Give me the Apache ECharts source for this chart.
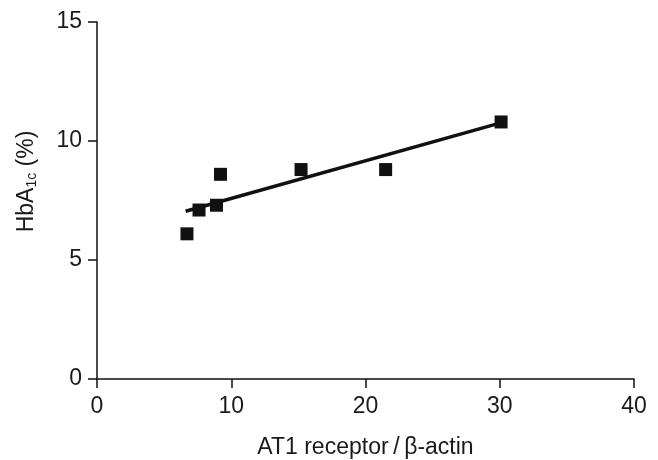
<!DOCTYPE html>
<html>
<head>
<meta charset="utf-8">
<script src="https://cdn.jsdelivr.net/npm/echarts@6/dist/echarts.min.js"></script>
<style>
  html, body { margin: 0; padding: 0; background: #fff; }
  #main { width: 658px; height: 460px; }
</style>
</head>
<body>
<div id="main"></div>
<script>
// 数据点 (AT1 receptor/β-actin, HbA1c %)
var xValues = [6.7, 7.6, 8.9, 9.2, 15.2, 21.5, 30.1];
var yValues = [6.1, 7.1, 7.3, 8.6, 8.8, 8.8, 10.8];
// 回归线端点
var fitX = [6.6, 30.0];
var fitY = [7.05, 10.75];
var xTicks = [0, 10, 20, 30, 40];
var yTicks = [0, 5, 10, 15];

var points = xValues.map(function (x, i) { return [x, yValues[i]]; });
var fitLine = fitX.map(function (x, i) { return [x, fitY[i]]; });

var myChart = echarts.init(document.getElementById('main'));
var axisColor = '#111';
var textColor = '#1a1a1a';
var font = 'Liberation Sans, Arial, sans-serif';

var option = {
    animation: false,
    grid: { left: 97, right: 24, top: 22, bottom: 81, outerBoundsMode: 'none' },
    xAxis: {
        type: 'value',
        min: xTicks[0],
        max: xTicks[xTicks.length - 1],
        interval: 10,
        splitLine: { show: false },
        axisLine: { lineStyle: { color: axisColor, width: 1.5 } },
        axisTick: { length: 9, lineStyle: { color: axisColor, width: 1.5 } },
        axisLabel: { color: textColor, fontSize: 23, fontFamily: font, margin: 16 },
        name: 'AT1 receptor\u2009/\u2009β-actin',
        nameLocation: 'middle',
        nameGap: 57,
        nameTextStyle: { color: textColor, fontSize: 23, fontFamily: font }
    },
    yAxis: {
        type: 'value',
        min: yTicks[0],
        max: yTicks[yTicks.length - 1],
        interval: 5,
        splitLine: { show: false },
        axisLine: { lineStyle: { color: axisColor, width: 1.5 } },
        axisTick: { length: 9, lineStyle: { color: axisColor, width: 1.5 } },
        axisLabel: { color: textColor, fontSize: 23, fontFamily: font, margin: 15 },
        name: '{n|HbA}{s|1c}{n| (%)}',
        nameLocation: 'middle',
        nameGap: 58,
        nameTextStyle: {
            padding: [0, 0, 0, 38],
            rich: {
                n: { color: textColor, fontSize: 23, fontFamily: font },
                s: { color: textColor, fontSize: 14, fontFamily: font, verticalAlign: 'bottom', padding: [10, 0, 0, 0] }
            }
        }
    },
    series: [{
        name: 'scatter',
        type: 'scatter',
        symbol: 'rect',
        symbolSize: 13,
        itemStyle: { color: '#111', opacity: 1 },
        data: points
    }, {
        name: 'line',
        type: 'line',
        showSymbol: false,
        lineStyle: { color: '#111', width: 3.5 },
        data: fitLine
    }]
};
myChart.setOption(option);
</script>
</body>
</html>
